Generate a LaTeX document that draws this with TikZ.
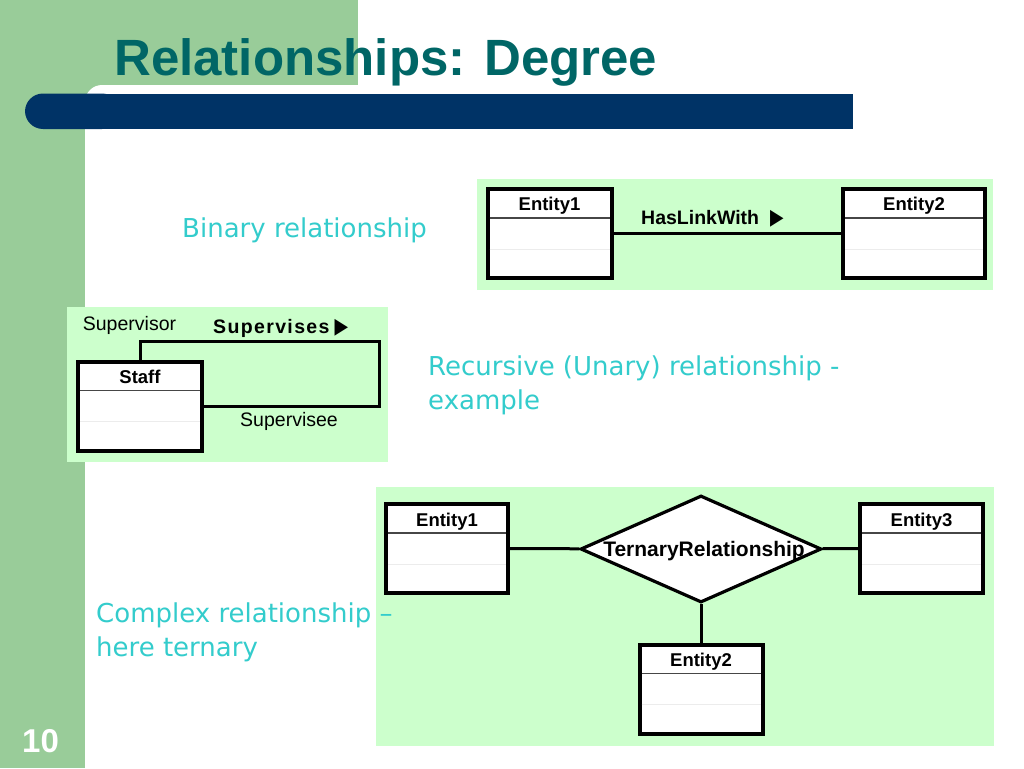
\documentclass[tikz,border=0pt]{standalone}
\usepackage{fontspec}
\usepackage{graphicx}
\setmainfont{Liberation Sans}
\newfontfamily\handfont{DejaVu Sans}
\newfontfamily\symbfont{DejaVu Sans}
\usetikzlibrary{shapes.geometric,calc}

\definecolor{sidegreen}{RGB}{153,204,153}
\definecolor{panelgreen}{RGB}{204,255,204}
\definecolor{barblue}{RGB}{0,51,102}
\definecolor{titleteal}{RGB}{0,102,102}
\definecolor{notecyan}{RGB}{51,204,204}
\definecolor{faintgray}{RGB}{236,236,236}
\definecolor{headgray}{RGB}{70,70,70}

\newcommand\arrowmark{{\symbfont\fontsize{22}{22}\selectfont\scalebox{0.8}[1]{▶}}}

\tikzset{
  entitybox/.style={draw=black, line width=4pt, fill=white, minimum width=124pt,
    minimum height=89pt, inner sep=0pt},
  entname/.style={font=\fontsize{18.5}{20}\selectfont\bfseries, inner sep=0pt, anchor=base},
  rolename/.style={font=\fontsize{19.5}{20}\selectfont, inner sep=0pt},
  relshape/.style={diamond, draw=black, line width=3.2pt, fill=white, minimum width=241pt,
    minimum height=107pt, inner sep=0pt},
  link/.style={draw=black, line width=3pt},
  headrule/.style={draw=headgray, line width=1.5pt},
  faintrule/.style={draw=faintgray, line width=1pt},
  note/.style={font=\handfont\fontsize{26}{34}\selectfont, text=notecyan, inner sep=0pt,
    align=left},
  panel/.style={fill=panelgreen}
}

\begin{document}
\begin{tikzpicture}[x=1pt, y=-1pt]
  \useasboundingbox (0,0) rectangle (1024,768);
  \fill[white] (0,0) rectangle (1024,768);

  % slide frame
  \fill[sidegreen] (0,0) rectangle (358,110);
  \fill[sidegreen] (0,0) rectangle (85,768);
  \fill[white, rounded corners=17pt] (85,85) rectangle (520,220);
  \fill[barblue, rounded corners=18pt] (25,93.5) rectangle (120,129);
  \fill[barblue] (60,93.5) rectangle (853,129);
  \node[anchor=base west, inner sep=0pt, text=titleteal,
    font=\fontsize{51}{51}\selectfont\bfseries] (title) at (114,75) {Relationships: Degree};
  \node[anchor=base west, inner sep=0pt, text=white,
    font=\fontsize{33}{33}\selectfont\bfseries] (pageno) at (22,752) {10};

  % panels
  \path[panel] (477,179) rectangle (993,290);
  \path[panel] (67,307) rectangle (388,462);
  \path[panel] (376,487) rectangle (994,746);

  % binary
  \node[entitybox] (bOne) at (549.5,233.5) {};
  \node[entitybox, minimum width=142pt] (bTwo) at (914,233.5) {};
  \draw[link] (bOne) -- (bTwo);
  \node[entname, font=\fontsize{19.5}{20}\selectfont\bfseries, anchor=base west] (hasLink)
    at (641,224) {HasLinkWith\hspace{11pt}\arrowmark};

  % recursive
  \node[entitybox] (staff) at (140,406) {};
  \coordinate (loopCorner) at (379,341);
  \draw[link] (staff.north) |- (loopCorner) |- (staff.east);
  \node[rolename] (supervisor) at (129.5,325) {Supervisor};
  \node[rolename, font=\fontsize{19.5}{20}\selectfont\bfseries\addfontfeatures{LetterSpace=7},
    anchor=base west] (supervises) at (213,333)
    {Supervises\hspace{5pt}\arrowmark};
  \node[rolename] (supervisee) at (289,421) {Supervisee};

  % ternary
  \node[entitybox, minimum width=122pt] (tOne) at (447,548.5) {};
  \node[entitybox, minimum width=123pt] (tThree) at (921.5,548.5) {};
  \node[entitybox, minimum width=123pt] (tTwo) at (701,689) {};
  \node[relshape] (trel) at (701,549) {};
  \draw[link] (tOne) -- (trel);
  \draw[link] (trel) -- (tThree);
  \draw[link] (trel) -- (tTwo);
  \node[entname, font=\fontsize{21}{21}\selectfont\bfseries] (trelName) at (704,556)
    {TernaryRelationship};

  % compartments and names
  \foreach \e in {bOne,bTwo,staff,tOne,tTwo,tThree} {
    \draw[headrule] ([xshift=4pt,yshift=-31pt]\e.north west) --
      ([xshift=-4pt,yshift=-31pt]\e.north east);
    \draw[faintrule] ([xshift=4pt,yshift=-62pt]\e.north west) --
      ([xshift=-4pt,yshift=-62pt]\e.north east);
  }
  \node[entname] (bOneName) at ([yshift=-23.5pt]bOne.north) {Entity1};
  \node[entname] (bTwoName) at ([yshift=-23.5pt]bTwo.north) {Entity2};
  \node[entname] (staffName) at ([yshift=-24pt]staff.north) {Staff};
  \node[entname] (tOneName) at ([yshift=-24pt]tOne.north) {Entity1};
  \node[entname] (tTwoName) at ([yshift=-23.5pt]tTwo.north) {Entity2};
  \node[entname] (tThreeName) at ([yshift=-24pt]tThree.north) {Entity3};

  % notes
  \node[note, anchor=base west] (binaryNote) at (182,237) {Binary relationship};
  \node[note, anchor=north west] (recursiveNote) at (428,355.5)
    {Recursive (Unary) relationship -\\example};
  \node[note, anchor=north west] (complexNote) at (96,602.5)
    {Complex relationship –\\here ternary};
\end{tikzpicture}
\end{document}
